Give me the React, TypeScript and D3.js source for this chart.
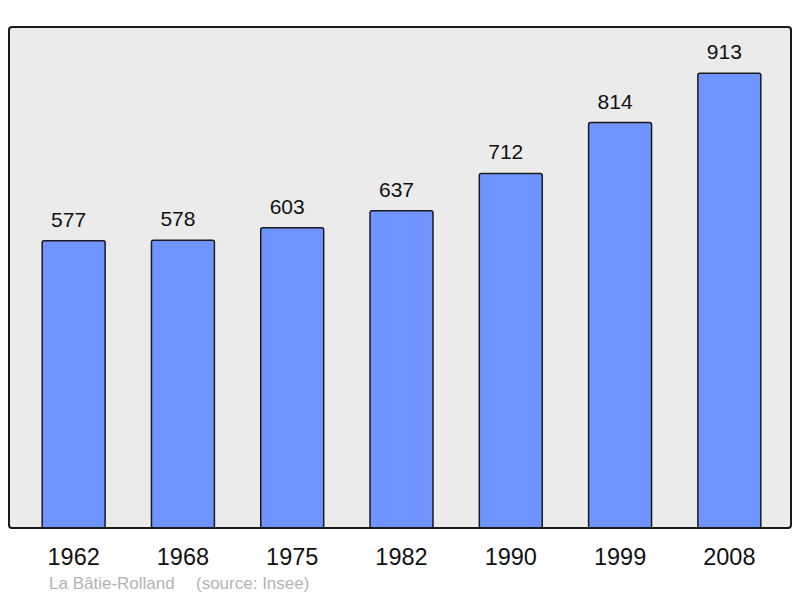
import React, { useEffect, useRef } from "react";
import * as d3 from "d3";

const years = ["1962", "1968", "1975", "1982", "1990", "1999", "2008"];
const population = [577, 578, 603, 637, 712, 814, 913];
const townName = "La Bâtie-Rolland";
const sourceNote = "(source: Insee)";

const width = 800;
const height = 598;
const plot = { left: 9, top: 27, right: 791, bottom: 528 };

const App = () => {
  const svgRef = useRef<SVGSVGElement | null>(null);

  useEffect(() => {
    const svg = d3.select(svgRef.current);
    svg.selectAll("*").remove();

    const font = "'Liberation Sans', Arial, sans-serif";

    const x = d3
      .scaleBand()
      .domain(years)
      .range([19, 784])
      .paddingInner(0.424)
      .paddingOuter(0.212);

    const y = d3.scaleLinear().domain([0, 1006]).range([plot.bottom, plot.top]);

    // plot frame
    svg
      .append("rect")
      .attr("x", plot.left)
      .attr("y", plot.top)
      .attr("width", plot.right - plot.left)
      .attr("height", plot.bottom - plot.top)
      .attr("rx", 3)
      .attr("fill", "#ebebeb")
      .attr("stroke", "#1a1a1a")
      .attr("stroke-width", 2);

    const rows = years.map((yr, i) => ({ year: yr, value: population[i] }));

    // bars
    svg
      .selectAll("rect.bar")
      .data(rows)
      .enter()
      .append("rect")
      .attr("class", "bar")
      .attr("x", (d) => x(d.year)!)
      .attr("y", (d) => y(d.value))
      .attr("width", x.bandwidth())
      .attr("height", (d) => plot.bottom - y(d.value))
      .attr("rx", 2)
      .attr("fill", "#7094ff")
      .attr("stroke", "#1a1a1a")
      .attr("stroke-width", 1.5);

    // redraw bottom frame line over the bars
    svg
      .append("line")
      .attr("x1", plot.left + 2)
      .attr("x2", plot.right - 2)
      .attr("y1", plot.bottom)
      .attr("y2", plot.bottom)
      .attr("stroke", "#1a1a1a")
      .attr("stroke-width", 2);

    // value labels (sit a little left of the bar centre in the original)
    svg
      .selectAll("text.val")
      .data(rows)
      .enter()
      .append("text")
      .attr("class", "val")
      .attr("x", (d) => x(d.year)! + x.bandwidth() / 2 - 5)
      .attr("y", (d) => y(d.value) - 14)
      .attr("text-anchor", "middle")
      .style("font-family", font)
      .style("font-size", "21px")
      .style("fill", "#111")
      .text((d) => d.value);

    // year labels
    svg
      .selectAll("text.year")
      .data(rows)
      .enter()
      .append("text")
      .attr("class", "year")
      .attr("x", (d) => x(d.year)! + x.bandwidth() / 2)
      .attr("y", 565)
      .attr("text-anchor", "middle")
      .style("font-family", font)
      .style("font-size", "23.5px")
      .style("fill", "#111")
      .text((d) => d.year);

    // footer
    svg
      .append("text")
      .attr("x", 49)
      .attr("y", 589)
      .style("font-family", font)
      .style("font-size", "17px")
      .style("fill", "#b3b3b3")
      .text(townName);

    svg
      .append("text")
      .attr("x", 196)
      .attr("y", 589)
      .style("font-family", font)
      .style("font-size", "17px")
      .style("fill", "#b3b3b3")
      .text(sourceNote);
  }, []);

  return (
    <svg
      ref={svgRef}
      width={width}
      height={height}
      style={{ position: "absolute", left: 0, top: 0, background: "#fff" }}
    ></svg>
  );
};

export default App;
